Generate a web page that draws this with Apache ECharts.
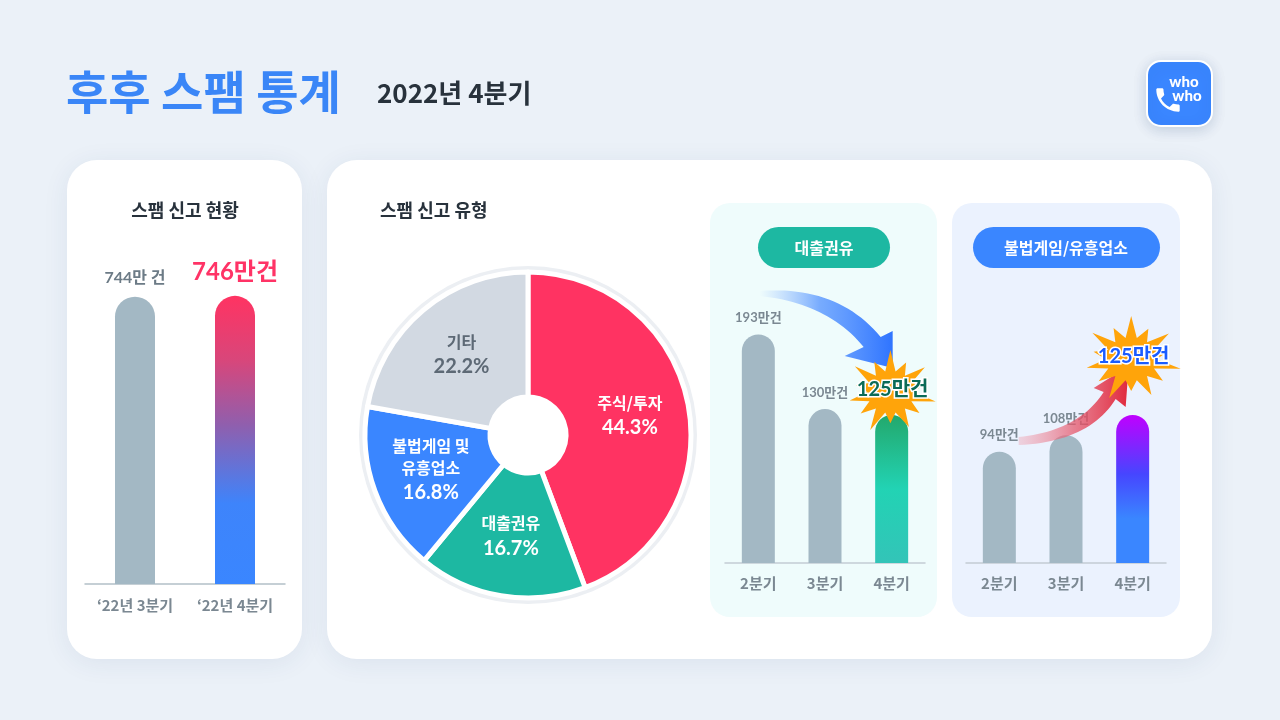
<!DOCTYPE html>
<html><head><meta charset="utf-8">
<script src="https://cdn.jsdelivr.net/npm/echarts@6/dist/echarts.min.js"></script>
<style>html,body{margin:0;padding:0;background:#EBF1F8}#c{width:1280px;height:720px}</style>
</head><body><div id="c"></div>
<script>
// ---- data ----
const totalCategories = ['‘22년 3분기', '‘22년 4분기'];
const totalValues = [744, 746];
const totalSuffix = ['만 건', '만건'];
const typeNames = ['주식/투자', '대출권유', '불법게임 및\n유흥업소', '기타'];
const typeShares = [44.3, 16.7, 16.8, 22.2];
const quarterCategories = ['2분기', '3분기', '4분기'];
const loanValues = [193, 130, 125];
const gamblingValues = [94, 108, 125];

const KR = '"Noto Sans CJK KR", sans-serif';
const NUM = 'Lato, "Noto Sans CJK KR", sans-serif';
const GRAY_BAR = '#a3b8c4';
const LABEL_GRAY = '#7b8892';

function lin(stops) {
  return { type: 'linear', x: 0, y: 0, x2: 0, y2: 1,
    colorStops: stops.map(s => ({ offset: s[0], color: s[1] })) };
}
function starPath() {
  const outer = [1, 0.78, 0.95, 0.72, 1, 0.8, 0.92, 0.74, 1, 0.82, 0.9, 0.76, 0.98, 0.8];
  const n = outer.length;
  let d = '';
  for (let i = 0; i < n * 2; i++) {
    const a = (Math.PI * 2 * i) / (n * 2) - Math.PI / 2;
    const r = i % 2 === 0 ? outer[i / 2] : 0.5;
    const x = (Math.cos(a) * r * 50 + 50).toFixed(2);
    const y = (Math.sin(a) * r * 50 + 50).toFixed(2);
    d += (i === 0 ? 'M' : 'L') + x + ' ' + y + ' ';
  }
  return 'path://' + d + 'Z';
}
const STAR = starPath();

// sample a quadratic bezier into points
function quad(p0, p1, p2, n) {
  const pts = [];
  for (let i = 0; i <= n; i++) {
    const t = i / n, u = 1 - t;
    pts.push([u * u * p0[0] + 2 * u * t * p1[0] + t * t * p2[0], u * u * p0[1] + 2 * u * t * p1[1] + t * t * p2[1]]);
  }
  return pts;
}

const chart = echarts.init(document.getElementById('c'), null, { renderer: 'canvas' });

const cardShadow = { shadowBlur: 26, shadowColor: 'rgba(40,70,120,0.08)', shadowOffsetY: 4 };
function txt(text, x, y, size, color, align, font, weight) {
  return { type: 'text', z: 1, x: x, y: y,
    style: { text: text, fill: color, fontSize: size, fontWeight: weight || 'bold',
      fontFamily: font || KR, align: align || 'left', textAlign: align || 'left',
      verticalAlign: 'middle', textVerticalAlign: 'middle' } };
}
const phoneSvg = '<svg xmlns="http://www.w3.org/2000/svg" viewBox="2 2 20 20"><path fill="#ffffff" d="M6.62 10.79c1.44 2.830 3.76 5.14 6.59 6.59l2.2-2.2c.27-.27.67-.36 1.02-.24 1.12.37 2.33.57 3.57.57.55 0 1 .45 1 1V20c0 .55-.45 1-1 1-9.39 0-17-7.61-17-17 0-.55.45-1 1-1h3.5c.55 0 1 .45 1 1 0 1.25.2 2.45.57 3.57.11.35.03.74-.25 1.02l-2.2 2.2z"/></svg>';
const graphics = [
  { type: 'rect', z: -5, shape: { x: 67, y: 160, width: 235, height: 499, r: 30 }, style: Object.assign({ fill: '#fff' }, cardShadow) },
  { type: 'rect', z: -5, shape: { x: 327, y: 160, width: 885, height: 499, r: 30 }, style: Object.assign({ fill: '#fff' }, cardShadow) },
  { type: 'rect', z: -4, shape: { x: 710, y: 203, width: 227, height: 414, r: 20 }, style: { fill: '#effcfc' } },
  { type: 'rect', z: -4, shape: { x: 952, y: 203, width: 228, height: 414, r: 20 }, style: { fill: '#ebf2fe' } },
  { type: 'rect', z: 0, shape: { x: 758, y: 227, width: 132, height: 41, r: 20.5 }, style: { fill: '#1db8a2' } },
  { type: 'rect', z: 0, shape: { x: 973, y: 227, width: 187, height: 41, r: 20.5 }, style: { fill: '#3a86ff' } },
  txt('대출권유', 824, 248, 16, '#fff', 'center'),
  txt('불법게임/유흥업소', 1066, 248, 16, '#fff', 'center'),
  txt('후후 스팸 통계', 66, 92, 46, '#3a86f7'),
  txt('2022년 4분기', 377, 93, 26, '#28323c'),
  txt('스팸 신고 현황', 185, 210, 18, '#28323c', 'center'),
  txt('스팸 신고 유형', 380, 210, 18, '#28323c'),
  // logo
  { type: 'rect', z: 0, shape: { x: 1147, y: 61, width: 65, height: 65, r: 14 },
    style: { fill: '#3a86ff', stroke: '#fff', lineWidth: 2, shadowBlur: 14, shadowColor: 'rgba(30,60,110,0.18)', shadowOffsetY: 3 } },
  txt('who', 1184, 82, 15, '#fff', 'center', NUM, 900),
  txt('who', 1187, 96, 15, '#fff', 'center', NUM, 900),
  { type: 'image', z: 1, style: { image: 'data:image/svg+xml;charset=utf-8,' + encodeURIComponent(phoneSvg), x: 1155, y: 87, width: 26, height: 26 } }
];

function axisX(gridIndex, data, margin, lineColor) {
  return { type: 'category', gridIndex: gridIndex, data: data,
    axisTick: { show: false },
    axisLine: { lineStyle: { color: lineColor, width: 1.5 } },
    axisLabel: { margin: margin, color: LABEL_GRAY, fontSize: 15, fontWeight: 'bold', fontFamily: KR } };
}
function smallLabel(dist) {
  return { show: true, position: 'top', distance: dist, color: LABEL_GRAY, fontSize: 13, fontWeight: 'bold', fontFamily: NUM, formatter: '{c}만건' };
}
function starMark(cat, val, offset, size, textColor) {
  return { silent: true, data: [{ coord: [cat, val], value: val, symbol: STAR,
    symbolSize: size, symbolOffset: offset,
    itemStyle: { color: '#ffa40a' },
    label: { show: true, position: 'inside', formatter: '{c}만건', color: textColor,
      fontSize: 20, fontWeight: 'bold', fontFamily: NUM, textBorderColor: '#fff', textBorderWidth: 3 } }] };
}

const option = {
  backgroundColor: '#EBF1F8',
  animation: false,
  graphic: { elements: graphics },
  grid: [
    { left: 85, width: 200, top: 275, height: 309 },
    { left: 725, width: 200, top: 326.2, height: 236.8 },
    { left: 966, width: 200, top: 326.2, height: 236.8 }
  ],
  xAxis: [
    axisX(0, totalCategories, 14, '#b3c0c8'),
    axisX(1, quarterCategories, 13, '#c3ccd3'),
    axisX(2, quarterCategories, 13, '#c3ccd3')
  ],
  yAxis: [
    { gridIndex: 0, type: 'value', min: 0, max: 800, show: false },
    { gridIndex: 1, type: 'value', min: 0, max: 200, show: false },
    { gridIndex: 2, type: 'value', min: 0, max: 200, show: false }
  ],
  series: [
    { type: 'bar', xAxisIndex: 0, yAxisIndex: 0, barWidth: 40,
      itemStyle: { borderRadius: [20, 20, 0, 0] },
      data: totalValues.map((v, i) => ({
        value: v,
        itemStyle: { color: i === 0 ? GRAY_BAR : lin([[0, '#ff3362'], [0.22, '#d9467a'], [0.45, '#8f5fae'], [0.72, '#3e84fb'], [1, '#3a86ff']]) },
        label: i === 0
          ? { show: true, position: 'top', distance: 11, color: '#6c7b86', fontSize: 16, fontWeight: 'bold', fontFamily: NUM, formatter: '{c}' + totalSuffix[i] }
          : { show: true, position: 'top', distance: 12, color: '#ff3366', fontSize: 24, fontWeight: 'bold', fontFamily: NUM, formatter: '{c}' + totalSuffix[i] }
      }))
    },
    { type: 'pie', silent: true, z: 1, center: [528, 435], radius: [46, 169],
      label: { show: false }, labelLine: { show: false },
      data: [{ value: 1, itemStyle: { color: '#eceff3' } }] },
    { type: 'pie', silent: true, z: 2, center: [528, 435], radius: [38, 163],
      startAngle: 90, clockwise: true, avoidLabelOverlap: false,
      itemStyle: { borderColor: '#fff', borderWidth: 5 },
      label: { show: true, position: 'inside',
        formatter: p => '{n|' + p.name.split('\n').join('}\n{n|') + '}\n{p|' + p.value + '%}',
        rich: { n: { fontSize: 16, fontWeight: 'bold', color: '#fff', lineHeight: 22, fontFamily: KR },
                p: { fontSize: 20, fontWeight: 'bold', color: '#fff', lineHeight: 28, fontFamily: NUM } } },
      labelLine: { show: false },
      data: typeNames.map((n, i) => {
        const colors = ['#ff3362', '#1db8a2', '#3a86ff', '#d2d9e2'];
        const d = { name: n, value: typeShares[i], itemStyle: { color: colors[i] } };
        if (i === 3) d.label = { rich: {
          n: { fontSize: 16, fontWeight: 'bold', color: '#5d6975', lineHeight: 22, fontFamily: KR },
          p: { fontSize: 20, fontWeight: 'bold', color: '#5d6975', lineHeight: 28, fontFamily: NUM } } };
        return d;
      })
    },
    { type: 'bar', xAxisIndex: 1, yAxisIndex: 1, barWidth: 33,
      itemStyle: { borderRadius: [16.5, 16.5, 0, 0] },
      data: loanValues.map((v, i) => i < 2
        ? { value: v, itemStyle: { color: GRAY_BAR }, label: smallLabel(10) }
        : { value: v, itemStyle: { color: lin([[0, '#23a86c'], [0.5, '#22d3b4'], [1, '#33c4b8']]) } }),
      markPoint: starMark(2, loanValues[2], [1, -25], [86, 80], '#0b6b57')
    },
    { type: 'bar', xAxisIndex: 2, yAxisIndex: 2, barWidth: 33,
      itemStyle: { borderRadius: [16.5, 16.5, 0, 0] },
      data: gamblingValues.map((v, i) => i < 2
        ? { value: v, itemStyle: { color: GRAY_BAR }, label: smallLabel(10) }
        : { value: v, itemStyle: { color: lin([[0, '#c000ff'], [0.4, '#4646ff'], [0.7, '#3a86ff'], [1, '#3a86ff']]) } }),
      markPoint: starMark(2, gamblingValues[2], [1, -58], [94, 82], '#1a5cff')
    }
  ]
};
chart.setOption(option);

// trend arrows anchored to the last bar of each panel (offsets in px from that bar's top)
function arrowPoly(anchor, upper, head, lower) {
  const pts = quad(upper[0], upper[1], upper[2], 24).concat(head).concat(quad(lower[0], lower[1], lower[2], 24));
  return pts.map(p => [p[0] + anchor[0], p[1] + anchor[1]]);
}
const a1 = chart.convertToPixel({ gridIndex: 1 }, [2, loanValues[2]]);
const a2 = chart.convertToPixel({ gridIndex: 2 }, [2, gamblingValues[2]]);
graphics.push(
  { type: 'polygon', z: 3,
    shape: { points: arrowPoly(a1, [[-132, -124], [-54, -130], [-11, -78]], [[1, -84], [1, -47], [-47, -59]], [[-28, -68], [-64, -112], [-132, -119]]) },
    style: { fill: { type: 'linear', x: 0, y: 0, x2: 1, y2: 0, colorStops: [
      { offset: 0, color: 'rgba(120,170,255,0)' }, { offset: 0.45, color: 'rgba(80,145,255,0.75)' }, { offset: 1, color: '#2f74ff' }] } } },
  { type: 'polygon', z: 3,
    shape: { points: arrowPoly(a2, [[-114, 22], [-54, 16], [-29, -23]], [[-39, -27], [-4, -49], [-7, -8]], [[-17, -16], [-44, 27], [-114, 30]]) },
    style: { fill: { type: 'linear', x: 0, y: 0, x2: 1, y2: 0, colorStops: [
      { offset: 0, color: 'rgba(240,150,165,0.35)' }, { offset: 0.5, color: 'rgba(230,90,110,0.75)' }, { offset: 1, color: '#e0283c' }] } } }
);
chart.setOption({ graphic: { elements: graphics } });
</script>
</body></html>
